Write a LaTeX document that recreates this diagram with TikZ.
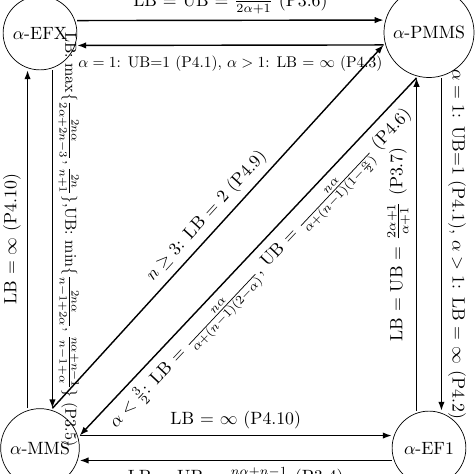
\documentclass[tikz,border=0pt]{standalone}
\usetikzlibrary{arrows.meta}
\begin{document}
\begin{tikzpicture}[x=0.5625pt,y=-0.5625pt,
  st/.style={draw, circle, line width=0.4pt, inner sep=4pt, minimum size=41.5pt},
  arr/.style={-{Latex[length=5pt,width=3.6pt]}, line width=0.8pt},
  smalltop/.style={scale=0.87, transform shape},
  smallleft/.style={scale=0.9, transform shape}]
\useasboundingbox (0,0) rectangle (474,474);
\node[st] (EFX) at (40,33) {$\alpha$-EFX};
\node[st] (PMMS) at (429,32.5) {$\alpha$-PMMS};
\node[st] (MMS) at (40,448) {$\alpha$-MMS};
\node[st] (EF1) at (429,448) {$\alpha$-EF1};
% top
\draw[arr] ([yshift=7pt]EFX.east) -- node[above] {LB = UB = $\frac{4\alpha}{2\alpha+1}$ (P3.6)} ([yshift=7pt]PMMS.west);
\draw[arr] ([yshift=-7pt]PMMS.west) -- node[below=2.5pt, smalltop] {$\alpha = 1$: UB=1 (P4.1), $\alpha > 1$: LB = $\infty$ (P4.3)} ([yshift=-7pt]EFX.east);
% bottom
\draw[arr] ([yshift=7pt]MMS.east) -- node[above] {LB = $\infty$ (P4.10)} ([yshift=7pt]EF1.west);
\draw[arr] ([yshift=-7pt]EF1.west) -- node[below] {LB = UB = $\frac{n\alpha+n-1}{n-1+\alpha}$ (P3.4)} ([yshift=-7pt]MMS.east);
% left
\draw[arr] ([xshift=-7pt]MMS.north) -- node[rotate=90, above] {LB = $\infty$ (P4.10)} ([xshift=-7pt]EFX.south);
\draw[arr] ([xshift=7pt]EFX.south) -- node[rotate=-90, above, smallleft] {LB: $\max\{\frac{2n\alpha}{2\alpha+2n-3}, \frac{2n}{n+1}\}$,UB: $\min\{\frac{2n\alpha}{n-1+2\alpha}, \frac{n\alpha+n-1}{n-1+\alpha}\}$ (P3.5)} ([xshift=7pt]MMS.north);
% right
\draw[arr] ([xshift=-7pt]EF1.north) -- node[rotate=90, above] {LB = UB = $\frac{2\alpha+1}{\alpha+1}$ (P3.7)} ([xshift=-7pt]PMMS.south);
\draw[arr] ([xshift=7pt]PMMS.south) -- node[rotate=-90, above] {$\alpha = 1$: UB=1 (P4.1), $\alpha > 1$: LB = $\infty$ (P4.2)} ([xshift=7pt]EF1.north);
% diagonals
\draw[arr] ([xshift=7pt]MMS.north) -- node[sloped, above] {$n \geq 3$: LB = 2 (P4.9)} ([yshift=-7pt]PMMS.west);
\draw[arr] ([xshift=-7pt]PMMS.south) -- node[sloped, below] {$\alpha < \frac{3}{2}$: LB = $\frac{n\alpha}{\alpha+(n-1)(2-\alpha)}$, UB = $\frac{n\alpha}{\alpha+(n-1)(1-\frac{\alpha}{2})}$ (P4.6)} ([yshift=7pt]MMS.east);
\end{tikzpicture}
\end{document}
